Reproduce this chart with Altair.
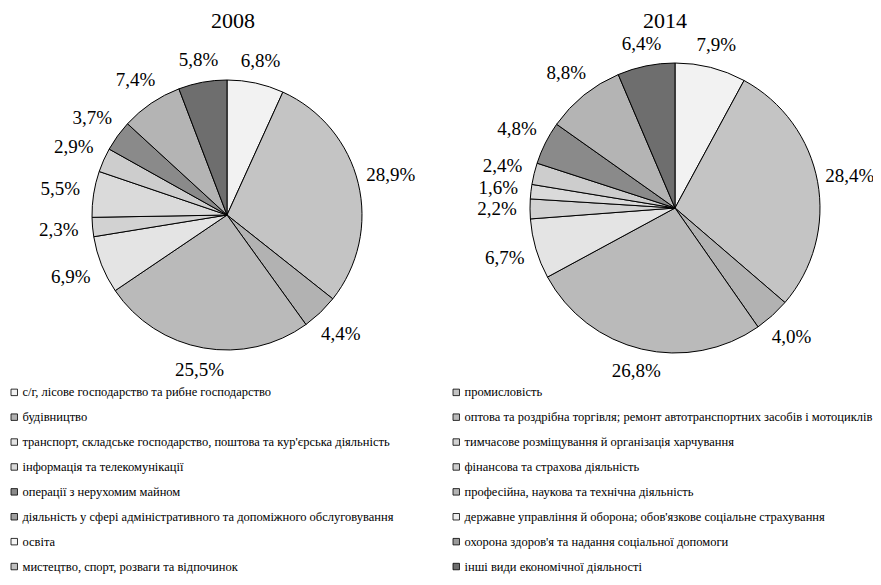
import altair as alt
import pandas as pd

years = ["2008", "2014"]

categories = [
    "с/г, лісове господарство та рибне господарство",
    "промисловість",
    "будівництво",
    "оптова та роздрібна торгівля; ремонт автотранспортних засобів і мотоциклів",
    "транспорт, складське господарство, поштова та кур'єрська діяльність",
    "тимчасове розміщування й організація харчування",
    "інформація та телекомунікації",
    "фінансова та страхова діяльність",
    "операції з нерухомим майном",
    "професійна, наукова та технічна діяльність",
    "діяльність у сфері  адміністративного та допоміжного  обслуговування",
    "державне управління й оборона; обов'язкове соціальне страхування",
    "освіта",
    "охорона здоров'я та надання соціальної допомоги",
    "мистецтво, спорт, розваги та відпочинок",
    "інші види економічної діяльності",
]

share_2008 = [6.8, 28.9, 4.4, 25.5, 6.9, 2.3, 5.5, 2.9, 3.7, 7.4,
              None, None, None, None, None, 5.8]
share_2014 = [7.9, 28.4, 4.0, 26.8, 6.7, 2.2, 1.6, 2.4, 4.8, 8.8,
              None, None, None, None, None, 6.4]

greys = ["#f2f2f2", "#c4c4c4", "#b2b2b2", "#bababa", "#e4e4e4", "#d2d2d2",
         "#dadada", "#cdcdcd", "#8a8a8a", "#b4b4b4", "#a0a0a0", "#eeeeee",
         "#f5f5f5", "#9a9a9a", "#c0c0c0", "#6e6e6e"]

rows = []
for year, vals in zip(years, (share_2008, share_2014)):
    for i, (c, v) in enumerate(zip(categories, vals)):
        if v is None:
            continue
        rows.append(dict(year=year, cat=c, idx=i, share=v,
                         label=f"{v:.1f}".replace(".", ",") + "%"))
df = pd.DataFrame(rows)

# the legend fills its columns top to bottom: interleave so it reads row by row
legend_order = categories[0::2] + categories[1::2]
legend_greys = greys[0::2] + greys[1::2]

color = alt.Color(
    "cat:N",
    scale=alt.Scale(domain=legend_order, range=legend_greys),
    legend=alt.Legend(title=None),
)


def pie(year, cx, cy, r, base_gap, side_gap):
    base = alt.Chart(df).transform_filter(alt.datum.year == year)
    arcs = base.mark_arc(outerRadius=r, stroke="black", strokeWidth=1).encode(
        theta=alt.Theta("share:Q", stack=True),
        order=alt.Order("idx:Q"),
        color=color,
        x=alt.value(cx),
        y=alt.value(cy),
    )
    # label angle = middle of each slice, label distance grows at the sides
    text = base.transform_window(
        cum="sum(share)", sort=[alt.SortField("idx")], frame=[None, 0]
    ).transform_joinaggregate(
        total="sum(share)"
    ).transform_calculate(
        mid="(datum.cum - datum.share / 2) / datum.total * 2 * PI",
        rad=f"{r} + {base_gap} + {side_gap} * abs(sin(datum.mid))",
    ).mark_text(font="Liberation Serif", fontSize=19, color="black").encode(
        theta=alt.Theta("mid:Q", scale=None),
        radius=alt.Radius("rad:Q", scale=None),
        text="label:N",
        x=alt.value(cx),
        y=alt.value(cy),
    )
    return alt.layer(arcs, text)


def title(year, tx):
    return alt.Chart(pd.DataFrame({"t": [year]})).mark_text(
        font="Liberation Serif", fontSize=22, color="black", baseline="middle"
    ).encode(text="t:N", x=alt.value(tx), y=alt.value(8))


chart = alt.layer(
    pie(years[0], 214, 202, 135, 20, 14),
    pie(years[1], 662, 195, 145, 20, 13),
    title(years[0], 220),
    title(years[1], 652),
).resolve_scale(theta="independent").properties(
    width=860,
    height=564,
    padding={"left": 5, "top": 5, "right": 0, "bottom": 0},
    autosize="none",
    background="white",
).configure_view(stroke=None).configure_legend(
    orient="none",
    legendX=-5,
    legendY=373,
    columns=2,
    columnPadding=50,
    rowPadding=11.9,
    symbolType="square",
    symbolSize=42,
    symbolStrokeColor="black",
    symbolStrokeWidth=0.8,
    labelFont="Liberation Serif",
    labelFontSize=12.5,
    labelLimit=600,
    labelColor="black",
    labelOffset=2,
    padding=0,
)

chart.save("out.html", embed_options={"renderer": "svg", "actions": False})
